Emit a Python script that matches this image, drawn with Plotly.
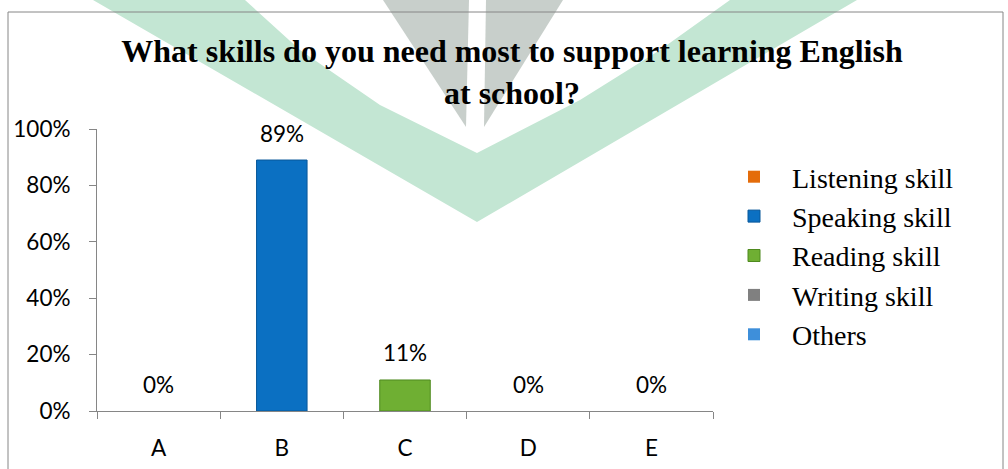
import plotly.graph_objects as go

# ---- data ----
categories = ["A", "B", "C", "D", "E"]
series_names = ["Listening skill", "Speaking skill", "Reading skill", "Writing skill", "Others"]
values = [0.00, 0.89, 0.11, 0.00, 0.00]
value_labels = ["0%", "89%", "11%", "0%", "0%"]
y_ticks = [0, 0.2, 0.4, 0.6, 0.8, 1.0]
y_tick_labels = ["0%", "20%", "40%", "60%", "80%", "100%"]
title_text = "What skills do you need most to support learning English<br>at school?"

colors = ["#E46C0A", "#0B70C2", "#6FAF33", "#808080", "#3E8FDA"]
line_colors = ["#B65508", "#09589A", "#4F8A1F", "#5E5E5E", "#2C6FB0"]

W, H = 1008, 469
L, R, T, B = 97, 713, 129, 411  # plot area in pixels


def px(x):
    return (x - L) / (R - L)


def py(y):
    return (B - y) / (B - T)


fig = go.Figure()
for i, name in enumerate(series_names):
    fig.add_trace(go.Bar(
        x=[categories[i]], y=[values[i]], name=name,
        width=0.41,
        marker=dict(color=colors[i],
                    line=dict(color=line_colors[i], width=1 if values[i] > 0 else 0)),
        hoverinfo="skip",
    ))

annotations = []
for c, v, t in zip(categories, values, value_labels):
    annotations.append(dict(
        x=c, y=v, xref="x", yref="y", text=t, showarrow=False,
        yshift=27, yanchor="middle",
        font=dict(family="Lato", size=22.5, color="#000000"),
    ))


# watermark (background logo of the page) and chart border
def poly(points):
    return "M " + " L ".join(f"{px(a):.5f},{py(b):.5f}" for a, b in points) + " Z"


shapes = [
    dict(type="path", xref="paper", yref="paper", layer="below",
         path=poly([(93, 0), (245, 0), (300, 50), (380, 105), (477, 153),
                    (580, 100), (660, 50), (730, 0), (857, 0), (477, 222)]),
         fillcolor="#C3E6D3", line=dict(width=0)),
    dict(type="path", xref="paper", yref="paper", layer="below",
         path=poly([(383, 0), (469, 0), (466, 127)]),
         fillcolor="#C8CFCB", line=dict(width=0)),
    dict(type="path", xref="paper", yref="paper", layer="below",
         path=poly([(486, 0), (563, 0), (484, 127)]),
         fillcolor="#C8CFCB", line=dict(width=0)),
    dict(type="rect", xref="paper", yref="paper", layer="above",
         x0=px(8), x1=px(1003), y0=py(480), y1=py(12),
         line=dict(color="#868686", width=1), fillcolor="rgba(0,0,0,0)"),
]

fig.update_layout(
    width=W, height=H,
    margin=dict(l=L, r=W - R, t=T, b=H - B, autoexpand=False),
    paper_bgcolor="#FFFFFF", plot_bgcolor="rgba(0,0,0,0)",
    barmode="overlay",
    title=dict(text=title_text, x=512 / W, xref="container", xanchor="center",
               y=1 - 62 / H, yref="container", yanchor="top",
               font=dict(family="Liberation Serif", size=32, color="#000000", weight="bold")),
    xaxis=dict(type="category", categoryorder="array", categoryarray=categories,
               showline=True, linecolor="#868686", linewidth=1,
               ticks="outside", ticklen=7, tickcolor="#868686", tickson="boundaries",
               showgrid=False, zeroline=False, ticklabelstandoff=17,
               tickfont=dict(family="Lato", size=22.5, color="#000000")),
    yaxis=dict(range=[0, 1], tickvals=y_ticks, ticktext=y_tick_labels,
               showline=True, linecolor="#868686", linewidth=1,
               ticks="outside", ticklen=7, tickcolor="#868686",
               showgrid=False, zeroline=False, ticklabelstandoff=14,
               tickfont=dict(family="Lato", size=22.5, color="#000000")),
    legend=dict(x=px(716), y=py(152), xanchor="left", yanchor="top",
                itemwidth=66, bgcolor="rgba(0,0,0,0)",
                font=dict(family="Liberation Serif", size=28, color="#000000")),
    annotations=annotations,
    shapes=shapes,
)

fig.write_html("out.html")
